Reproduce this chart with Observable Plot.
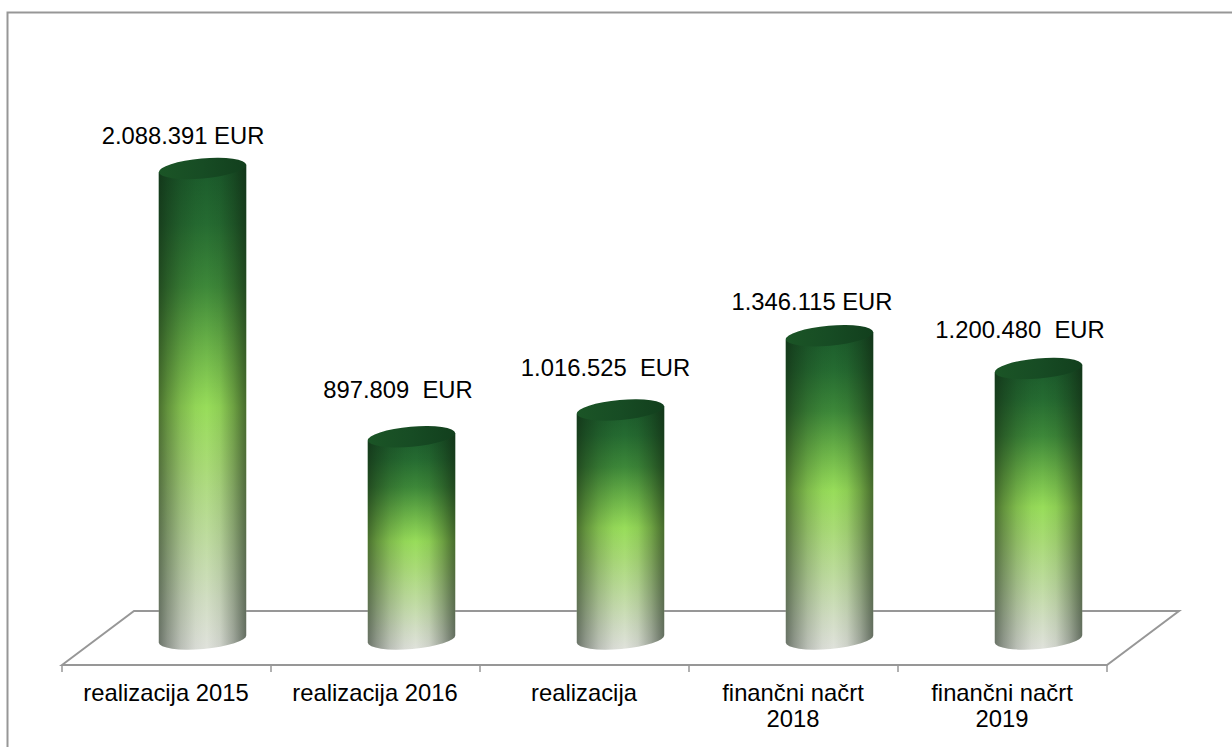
<!DOCTYPE html>
<html><head><meta charset="utf-8">
<script src="https://cdn.jsdelivr.net/npm/d3@7"></script>
<script src="https://cdn.jsdelivr.net/npm/@observablehq/plot@0.6"></script>
<style>html,body{margin:0;padding:0;background:#fff}svg{display:block}</style>
</head><body><div id="chart"></div>
<script>
const categories = ["realizacija 2015","realizacija 2016","realizacija","finančni načrt\n2018","finančni načrt\n2019"];
const amounts = [2088391, 897809, 1016525, 1346115, 1200480];
const valueLabels = ["2.088.391 EUR","897.809  EUR","1.016.525  EUR","1.346.115 EUR","1.200.480  EUR"];
// hand-placed label nudges relative to each column's top, as in the reference
const labelDx = [16, 22, 20.5, 18, 17];
const labelDy = [-33, -47, -42, -34, -39];

const table = categories.map((c,i)=>({c, v:amounts[i], label:valueLabels[i], i}));
const NS = "http://www.w3.org/2000/svg";
const depth = 36, frontDy = 26, backDy = -28, gray = "#979797";
const el = (n,a,p)=>{const e=document.createElementNS(NS,n);for(const k in a)e.setAttribute(k,a[k]);if(p)p.appendChild(e);return e;};

function frame(index, scales, values, dims){
  const g = el("g",{fill:"none",stroke:gray,"stroke-width":2});
  el("path",{d:`M7.5 ${dims.height}V12.5H${dims.width}`},g);
  const x0=scales.x(categories[0]), step=scales.x(categories[1])-x0, x1=x0+step*categories.length, y=scales.y(0);
  el("path",{d:`M${x0} ${y+frontDy}L${x0+depth*2} ${y+backDy}H${x1+depth*2}L${x1} ${y+frontDy}Z`},g);
  categories.concat("").forEach((_,i)=>el("path",{d:`M${x0+i*step} ${y+frontDy}v7`,"stroke-width":1.5},g));
  return g;
}

function cylinders(index, scales, values, dims){
  const g = el("g",{});
  const defs = el("defs",{},g);
  const v = el("linearGradient",{id:"cylV",x1:0,y1:0,x2:0,y2:1},defs);
  [[0,"#1a5a2b"],[.12,"#256b31"],[.25,"#3d8839"],[.38,"#6db549"],[.5,"#98dd5a"],[.62,"#a9db76"],[.78,"#c0dca2"],[.9,"#d2dec4"],[1,"#e0e2dc"]]
    .forEach(([o,c])=>el("stop",{offset:o,"stop-color":c},v));
  const h = el("linearGradient",{id:"cylH",x1:0,y1:0,x2:1,y2:0},defs);
  [[0,.55],[.1,.38],[.25,.18],[.42,.04],[.55,0],[.7,.08],[.85,.3],[1,.58]]
    .forEach(([o,a])=>el("stop",{offset:o,"stop-color":"#0c1a0c","stop-opacity":a},h));
  const t = el("linearGradient",{id:"cylT",x1:0,y1:0,x2:1,y2:0},defs);
  [[0,"#1b5526"],[.5,"#174c24"],[1,"#123f1d"]].forEach(([o,c])=>el("stop",{offset:o,"stop-color":c},t));
  const step = scales.x(categories[1])-scales.x(categories[0]);
  const rx = step*.21, ry = 10, tilt = -5, a = tilt*Math.PI/180, ax = rx*Math.cos(a), ay = rx*Math.sin(a);
  for (const i of index){
    const d = table[i], cx = scales.x(d.c)+step/2+depth, yb = scales.y(0), yt = scales.y(d.v);
    const body = `M${cx-ax} ${yt-ay}L${cx-ax} ${yb-ay}A${rx} ${ry} ${tilt} 0 0 ${cx+ax} ${yb+ay}L${cx+ax} ${yt+ay}Z`;
    el("path",{d:body,fill:"url(#cylV)"},g);
    el("path",{d:body,fill:"url(#cylH)"},g);
    el("ellipse",{cx,cy:yt,rx,ry,transform:`rotate(${tilt} ${cx} ${yt})`,fill:"url(#cylT)"},g);
  }
  return g;
}

const chart = Plot.plot({
  width:1232, height:747, marginLeft:0, marginRight:0, marginTop:0, marginBottom:75,
  style:{fontFamily:"'Liberation Sans',Arial,sans-serif",background:"#fff",color:"#000",overflow:"visible"},
  x:{type:"band",domain:categories,range:[61,1107],padding:0,label:null},
  y:{domain:[0,2088391],range:[639,168.5],axis:null,label:null},
  marks:[
    Plot.barY(table,{x:"c",y:"v",render:frame}),
    Plot.barY(table,{x:"c",y:"v",render:cylinders}),
    Plot.axisX({tickSize:0,tickPadding:11,dx:-1,fontSize:23.8,lineHeight:1.06,fill:"#000",label:null}),
    ...table.map((d,i)=>Plot.text([d],{x:"c",y:"v",text:"label",fontSize:23.8,fill:"#000",dx:labelDx[i],dy:labelDy[i]}))
  ]
});
document.getElementById("chart").appendChild(chart);
</script></body></html>
